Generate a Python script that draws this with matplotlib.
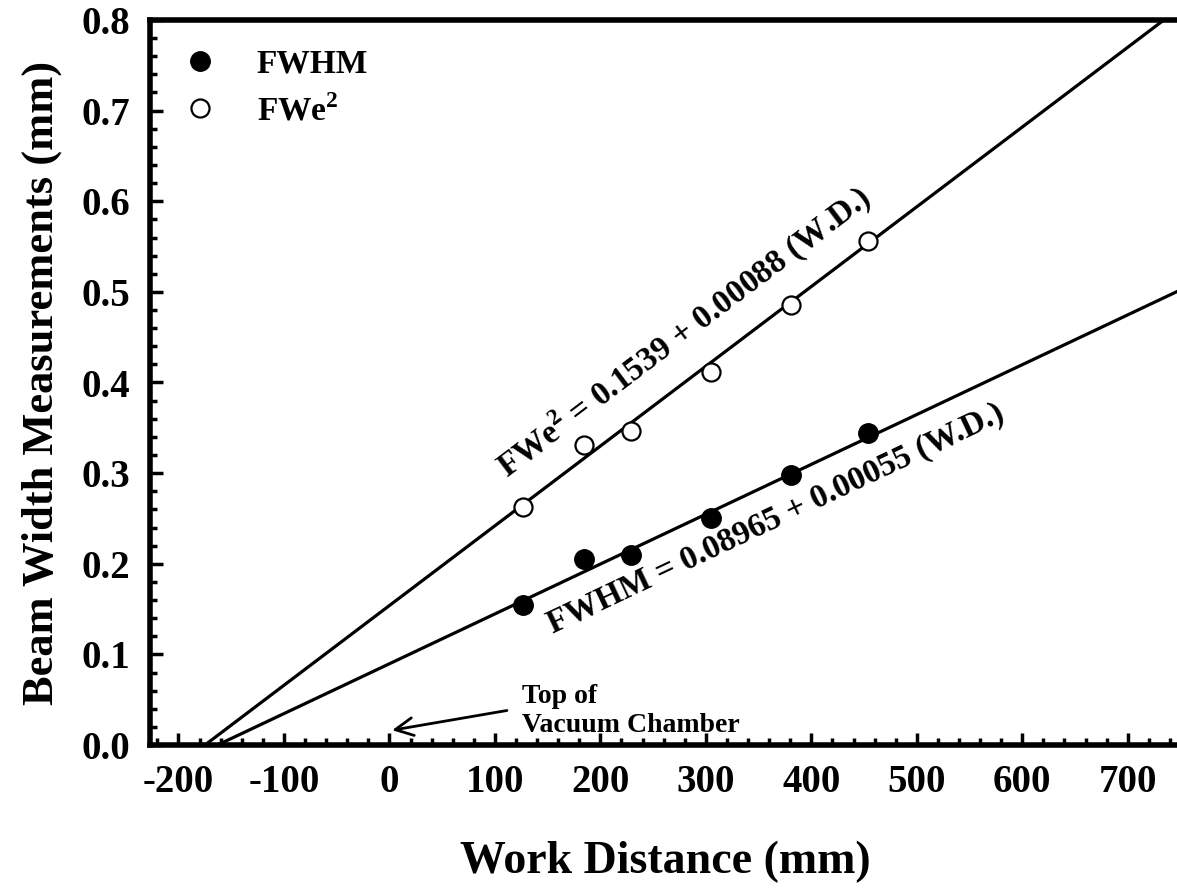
import numpy as np
import matplotlib.pyplot as plt
from matplotlib.ticker import MultipleLocator, FormatStrFormatter

plt.rcParams['font.family'] = ['Liberation Serif', 'DejaVu Serif']
plt.rcParams['font.weight'] = 'bold'
plt.rcParams['axes.labelweight'] = 'bold'
plt.rcParams['axes.unicode_minus'] = False
plt.rcParams['mathtext.fontset'] = 'custom'
plt.rcParams['mathtext.rm'] = 'Liberation Serif:bold'
plt.rcParams['mathtext.bf'] = 'Liberation Serif:bold'

# datos
work_dist = np.array([127, 184, 229, 305, 381, 454])
fwhm = np.array([0.155, 0.205, 0.210, 0.251, 0.298, 0.344])
fwe2 = np.array([0.263, 0.331, 0.346, 0.412, 0.486, 0.556])

# ajustes lineales (de las etiquetas)
fwhm_a, fwhm_b = 0.08965, 0.00055
fwe2_a, fwe2_b = 0.1539, 0.00088

xmin, xmax = -227, 750

fig = plt.figure(figsize=(11.77, 8.88), dpi=100)
ax = fig.add_axes([150 / 1177, 1 - 745 / 888, 1030.5 / 1177, 725 / 888])
ax.set_xlim(xmin, xmax)
ax.set_ylim(0, 0.8)

# rectas de ajuste desde el corte con y=0
for a, b in [(fwe2_a, fwe2_b), (fwhm_a, fwhm_b)]:
    xl = np.array([-a / b, xmax])
    ax.plot(xl, a + b * xl, 'k-', lw=2.3, zorder=2)

ax.plot(work_dist, fwhm, 'o', ms=14, mfc='black', mec='black', label='FWHM', zorder=3)
ax.plot(work_dist, fwe2, 'o', ms=13, mfc='white', mec='black', mew=1.6,
        label=r'FWe$^{\mathbf{2}}$', zorder=3)

# textos de las ecuaciones, giradas segun la recta
def angle(b):
    p = ax.transData.transform([(0, 0), (100, 100 * b)])
    d = p[1] - p[0]
    return np.degrees(np.arctan2(d[1], d[0]))

ax.text(279, 0.456, r'FWe$^{\mathbf{2}}$ = 0.1539 + 0.00088 (W.D.)', fontsize=24,
        rotation=angle(fwe2_b), rotation_mode='anchor', ha='center', va='center')
ax.text(366, 0.250, 'FWHM = 0.08965 + 0.00055 (W.D.)', fontsize=24,
        rotation=angle(fwhm_b), rotation_mode='anchor', ha='center', va='center')

ax.annotate('', xy=(0, 0.0158), xytext=(114, 0.0386),
            arrowprops=dict(arrowstyle='->', lw=2, color='black', mutation_scale=32))
ax.text(126, 0.0143, 'Top of\nVacuum Chamber', fontsize=20, ha='left', va='baseline',
        linespacing=1.2)

ax.legend(loc='upper left', bbox_to_anchor=(0.0, 0.993), frameon=False, fontsize=24,
          handletextpad=0.9, labelspacing=0.45, borderaxespad=0.3, handlelength=1.6)

ax.xaxis.set_major_locator(MultipleLocator(100))
ax.xaxis.set_minor_locator(MultipleLocator(20))
ax.yaxis.set_major_locator(MultipleLocator(0.1))
ax.yaxis.set_minor_locator(MultipleLocator(0.02))
ax.yaxis.set_major_formatter(FormatStrFormatter('%.1f'))
ax.tick_params(which='both', direction='in', width=2.5, labelsize=28, pad=14)
ax.tick_params(which='major', length=9)
ax.tick_params(which='minor', length=5)
ax.spines['right'].set_visible(False)
for s in ['left', 'bottom', 'top']:
    ax.spines[s].set_linewidth(4)

ax.set_xlabel('Work Distance (mm)', fontsize=33, labelpad=28)
ax.set_ylabel('Beam Width Measurements (mm)', fontsize=32, labelpad=14)

plt.savefig('out.png', dpi=100)
